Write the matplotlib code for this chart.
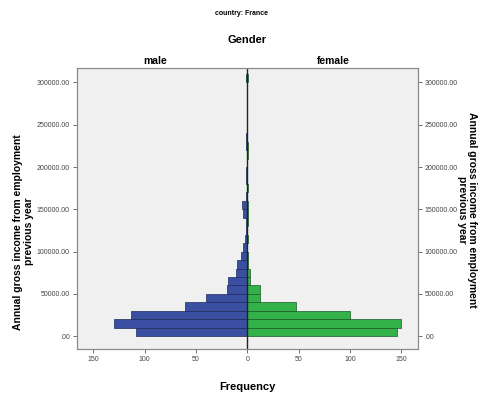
import numpy as np
import matplotlib
matplotlib.use("Agg")
import matplotlib.pyplot as plt

# Income bins (lower edges, 10 000 wide) and counts per gender
bin_edges = np.arange(0, 310000, 10000)
male_counts = [108, 130, 113, 61, 40, 20, 19, 11, 10, 6, 4, 2, 1, 1, 4, 5,
               1, 0, 1, 1, 0, 0, 1, 1, 0, 0, 0, 0, 0, 0, 1]
female_counts = [146, 150, 100, 47, 12, 12, 3, 3, 1, 1, 0, 1, 0, 1, 1, 1,
                 0, 1, 0, 0, 0, 1, 1, 0, 0, 0, 0, 0, 0, 0, 1]

x_ticks = [-150, -100, -50, 0, 50, 100, 150]
x_tick_labels = ["150", "100", "50", "0", "50", "100", "150"]
y_ticks = [0, 50000, 100000, 150000, 200000, 250000, 300000]
y_tick_labels = [".00", "50000.00", "100000.00", "150000.00",
                 "200000.00", "250000.00", "300000.00"]

plt.rcParams["font.family"] = ["Liberation Sans", "DejaVu Sans"]

male_color = "#3b4fa2"
female_color = "#33b24a"
frame_color = "#8a8a8a"

fig = plt.figure(figsize=(4.83, 3.96), dpi=100)
ax = fig.add_axes([0.159, 0.119, 0.706, 0.709])
ax.set_facecolor("#f0f0f0")

ax.barh(bin_edges, -np.array(male_counts), height=10000, align="edge",
        color=male_color, edgecolor="#1e2a5a", linewidth=0.5)
ax.barh(bin_edges, female_counts, height=10000, align="edge",
        color=female_color, edgecolor="#1a5a25", linewidth=0.5)
ax.axvline(0, color="#222222", linewidth=1.0)

ax.set_xlim(-166, 166)
ax.set_ylim(-15000, 317000)
ax.set_xticks(x_ticks)
ax.set_xticklabels(x_tick_labels)
ax.set_yticks(y_ticks)
ax.set_yticklabels(y_tick_labels)
ax.tick_params(labelsize=5, length=3, width=0.6, color="#555555",
               labelcolor="#444444", pad=2)
for spine in ax.spines.values():
    spine.set_color(frame_color)
    spine.set_linewidth(0.8)

# Same income scale repeated on the right
ax2 = ax.twinx()
ax2.set_ylim(ax.get_ylim())
ax2.set_yticks(y_ticks)
ax2.set_yticklabels(y_tick_labels)
ax2.tick_params(labelsize=5, length=3, width=0.6, color="#555555",
                labelcolor="#444444", pad=2)
for spine in ax2.spines.values():
    spine.set_color(frame_color)
    spine.set_linewidth(0.8)

ax.set_xlabel("Frequency", fontsize=8, fontweight="bold", labelpad=14)

fig.text(0.5, 0.965, "country: France", ha="center", va="center",
         fontsize=5, fontweight="bold")
fig.text(0.511, 0.898, "Gender", ha="center", va="center",
         fontsize=8, fontweight="bold")
fig.text(0.321, 0.846, "male", ha="center", va="center",
         fontsize=7.5, fontweight="bold")
fig.text(0.69, 0.846, "female", ha="center", va="center",
         fontsize=7.5, fontweight="bold")

income_label = "Annual gross income from employment\nprevious year"
fig.text(0.048, 0.415, income_label, ha="center", va="center",
         rotation=90, fontsize=7.5, fontweight="bold", linespacing=1.1)
fig.text(0.967, 0.47, income_label, ha="center", va="center",
         rotation=270, fontsize=7.5, fontweight="bold", linespacing=1.1)

fig.savefig("out.png", dpi=100, facecolor="white")
